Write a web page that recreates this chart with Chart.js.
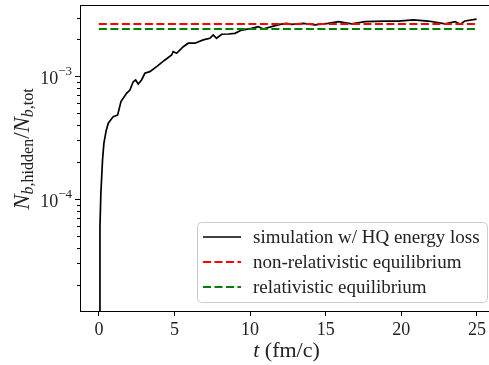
<!DOCTYPE html>
<html>
<head>
<meta charset="utf-8">
<script src="https://cdn.jsdelivr.net/npm/chart.js@4.4.1/dist/chart.umd.min.js"></script>
<style>
  html, body { margin: 0; padding: 0; background: #fff; }
  #wrap { width: 489px; height: 365px; }
</style>
</head>
<body>
<div id="wrap"><canvas id="hiddenChart" width="489" height="365"></canvas></div>
<script>
// Simulation curve: time (fm/c) and hidden b fraction
const times = [
  0.02, 0.07, 0.13, 0.24, 0.33, 0.48, 0.62, 0.95, 1.24, 1.46,
  1.83, 2.05, 2.27, 2.43, 2.60, 2.82, 3.04, 3.37, 3.82, 4.37,
  4.81, 4.91, 5.14, 5.58, 5.91, 6.35, 6.90, 7.34, 7.56, 7.78,
  8.12, 8.55, 9.00, 9.44, 10.10, 10.54, 10.87, 11.42, 11.97, 12.41,
  12.74, 13.52, 14.29, 15.17, 15.84, 16.72, 17.60, 18.93, 19.80, 20.80,
  21.78, 22.90, 23.56, 23.89, 24.20, 24.98
];
const hiddenFraction = [
  1.0e-5, 5.9e-5, 1.11e-4, 2.08e-4, 2.84e-4, 3.6e-4, 4.14e-4, 4.69e-4, 4.84e-4, 6.21e-4,
  7.26e-4, 7.73e-4, 9.03e-4, 9.33e-4, 8.65e-4, 9.33e-4, 1.057e-3, 1.09e-3, 1.197e-3, 1.358e-3,
  1.49e-3, 1.59e-3, 1.54e-3, 1.74e-3, 1.86e-3, 1.86e-3, 1.98e-3, 2.04e-3, 2.17e-3, 2.04e-3,
  2.20e-3, 2.21e-3, 2.24e-3, 2.38e-3, 2.46e-3, 2.54e-3, 2.43e-3, 2.54e-3, 2.65e-3, 2.70e-3,
  2.65e-3, 2.70e-3, 2.62e-3, 2.70e-3, 2.79e-3, 2.67e-3, 2.79e-3, 2.82e-3, 2.82e-3, 2.88e-3,
  2.82e-3, 2.67e-3, 2.79e-3, 2.65e-3, 2.82e-3, 2.92e-3
];

// Equilibrium levels
const eqTimes = [0, 25];
const nonRelEquilibrium = 2.67e-3;
const relEquilibrium = 2.43e-3;

// Ticks
const xTicks = [0, 5, 10, 15, 20, 25];
const yMajor = [1e-4, 1e-3];
const yMajorLabels = ['\u22124', '\u22123'];
const yMinor = [2e-5, 3e-5, 4e-5, 5e-5, 6e-5, 7e-5, 8e-5, 9e-5,
  2e-4, 3e-4, 4e-4, 5e-4, 6e-4, 7e-4, 8e-4, 9e-4, 2e-3, 3e-3];

const labels = ['simulation w/ HQ energy loss', 'non-relativistic equilibrium', 'relativistic equilibrium'];

const SERIF = '"Liberation Serif", "DejaVu Serif", serif';

function drawRuns(ctx, runs, x, y, align) {
  let total = 0;
  runs.forEach(r => {
    ctx.font = (r.italic ? 'italic ' : '') + r.size + 'px ' + SERIF;
    r.w = ctx.measureText(r.t).width;
    total += r.w;
  });
  let cx = align === 'center' ? x - total / 2 : (align === 'right' ? x - total : x);
  runs.forEach(r => {
    ctx.font = (r.italic ? 'italic ' : '') + r.size + 'px ' + SERIF;
    ctx.fillText(r.t, cx, y + (r.dy || 0));
    cx += r.w;
  });
}

const decorations = {
  id: 'decorations',
  afterDraw(chart) {
    const ctx = chart.ctx;
    const area = chart.chartArea;
    const ys = chart.scales.y;
    ctx.save();
    ctx.strokeStyle = '#000';
    ctx.lineWidth = 1;
    // top spine
    ctx.beginPath();
    ctx.moveTo(area.left, area.top + 0.5);
    ctx.lineTo(area.right, area.top + 0.5);
    ctx.stroke();
    // y tick marks
    yMinor.forEach(v => {
      const p = Math.round(ys.getPixelForValue(v)) + 0.5;
      ctx.beginPath();
      ctx.moveTo(area.left - 3, p);
      ctx.lineTo(area.left, p);
      ctx.stroke();
    });
    ctx.fillStyle = '#222';
    ctx.textBaseline = 'middle';
    yMajor.forEach((v, i) => {
      const p = Math.round(ys.getPixelForValue(v)) + 0.5;
      ctx.beginPath();
      ctx.moveTo(area.left - 5, p);
      ctx.lineTo(area.left, p);
      ctx.stroke();
      drawRuns(ctx, [
        { t: '10', size: 18, dy: 3 },
        { t: yMajorLabels[i], size: 13, dy: -5 }
      ], area.left - 8, p, 'right');
    });
    // axis titles
    ctx.textBaseline = 'alphabetic';
    drawRuns(ctx, [
      { t: 't', size: 22, italic: true },
      { t: ' (fm/c)', size: 22 }
    ], (area.left + area.right) / 2 + 2, 357, 'center');
    ctx.save();
    ctx.translate(29, 149);
    ctx.rotate(-Math.PI / 2);
    drawRuns(ctx, [
      { t: 'N', size: 23, italic: true },
      { t: 'b', size: 16, italic: true, dy: 4 },
      { t: ',hidden', size: 16, dy: 4 },
      { t: '/', size: 23 },
      { t: 'N', size: 23, italic: true },
      { t: 'b', size: 16, italic: true, dy: 4 },
      { t: ',tot', size: 16, dy: 4 }
    ], 0, 0, 'center');
    ctx.restore();

    // legend
    const bx = 197, by = 222, bw = 290, bh = 80;
    ctx.fillStyle = 'rgba(255,255,255,0.8)';
    ctx.strokeStyle = '#cccccc';
    ctx.beginPath();
    ctx.roundRect(bx + 0.5, by + 0.5, bw, bh, 4);
    ctx.fill();
    ctx.stroke();
    const rows = [237, 262, 287];
    chart.data.datasets.forEach((ds, i) => {
      ctx.strokeStyle = ds.borderColor;
      ctx.lineWidth = ds.borderWidth;
      ctx.setLineDash(ds.borderDash || []);
      ctx.beginPath();
      ctx.moveTo(203, rows[i]);
      ctx.lineTo(241, rows[i]);
      ctx.stroke();
      ctx.setLineDash([]);
      ctx.fillStyle = '#222';
      ctx.textBaseline = 'middle';
      ctx.font = '19px ' + SERIF;
      ctx.fillText(ds.label, 253, rows[i] + 1);
    });
    ctx.restore();
  }
};

new Chart(document.getElementById('hiddenChart').getContext('2d'), {
  type: 'line',
  data: {
    datasets: [
      {
        label: labels[0],
        data: times.map((t, i) => ({ x: t, y: hiddenFraction[i] })),
        borderColor: '#000000',
        borderWidth: 1.7,
        pointRadius: 0,
        tension: 0,
        order: 3
      },
      {
        label: labels[1],
        data: eqTimes.map(t => ({ x: t, y: nonRelEquilibrium })),
        borderColor: '#ff0000',
        borderWidth: 2,
        borderDash: [8, 3.5],
        pointRadius: 0,
        order: 2
      },
      {
        label: labels[2],
        data: eqTimes.map(t => ({ x: t, y: relEquilibrium })),
        borderColor: '#008000',
        borderWidth: 2,
        borderDash: [8, 3.5],
        pointRadius: 0,
        order: 1
      }
    ]
  },
  options: {
    responsive: false,
    animation: false,
    devicePixelRatio: 1,
    layout: { padding: { top: 5, right: 0, left: 0, bottom: 0 } },
    plugins: {
      legend: { display: false },
      tooltip: { enabled: false }
    },
    scales: {
      x: {
        type: 'linear',
        min: -1.25,
        max: 25.8,
        afterBuildTicks: scale => { scale.ticks = xTicks.map(v => ({ value: v })); },
        afterFit: scale => { scale.height = 54; },
        ticks: {
          color: '#222',
          font: { family: SERIF, size: 18 },
          padding: 3,
          maxRotation: 0
        },
        grid: { drawOnChartArea: false, tickLength: 5, tickColor: '#000' },
        border: { color: '#000', width: 1 }
      },
      y: {
        type: 'logarithmic',
        min: 1.22e-5,
        max: 3.81e-3,
        afterFit: scale => { scale.width = 80; },
        ticks: { display: false },
        grid: { display: false },
        border: { color: '#000', width: 1 }
      }
    }
  },
  plugins: [decorations]
});
</script>
</body>
</html>
